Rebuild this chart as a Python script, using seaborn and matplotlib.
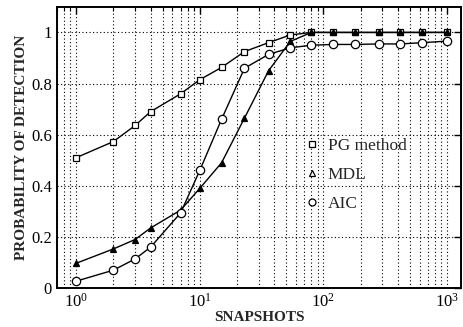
import numpy as np
import pandas as pd
import matplotlib
matplotlib.use("Agg")
import matplotlib.pyplot as plt
import seaborn as sns
from matplotlib.lines import Line2D
from matplotlib.ticker import LogLocator, FixedLocator

# values
snapshots = [1, 2, 3, 4, 7, 10, 15, 23, 36, 54, 80, 120, 180, 280, 420, 630, 1000]
pg_method = [0.51, 0.573, 0.636, 0.69, 0.76, 0.815, 0.863, 0.925, 0.96, 0.99,
             1.0, 1.0, 1.0, 1.0, 1.0, 1.0, 1.0]
mdl = [0.097, 0.153, 0.19, 0.235, 0.305, 0.39, 0.49, 0.665, 0.85, 0.965,
       1.0, 1.0, 1.0, 1.0, 1.0, 1.0, 1.0]
aic = [0.027, 0.07, 0.114, 0.16, 0.294, 0.46, 0.66, 0.86, 0.914, 0.94,
       0.95, 0.953, 0.953, 0.955, 0.955, 0.96, 0.966]
y_ticks = [0, 0.2, 0.4, 0.6, 0.8, 1]
y_ticklabels = ["0", "0.2", "0.4", "0.6", "0.8", "1"]

df = pd.DataFrame({"snapshots": snapshots, "PG method": pg_method,
                   "MDL": mdl, "AIC": aic})

sns.set_style("white")
plt.rcParams['font.family'] = ['Liberation Serif', 'DejaVu Serif']
plt.rcParams['mathtext.fontset'] = 'stix'

fig = plt.figure(figsize=(4.63, 3.27), dpi=100)
ax = fig.add_axes([0.123, 0.119, 0.873, 0.860])

# one style per series
styles = {
    "PG method": dict(marker="s", markersize=4.5, markerfacecolor="white"),
    "MDL": dict(marker="^", markersize=5, markerfacecolor="black"),
    "AIC": dict(marker="o", markersize=6, markerfacecolor="white"),
}
for name, st in styles.items():
    sns.lineplot(data=df, x="snapshots", y=name, ax=ax, color="black",
                 linewidth=1.0, markeredgecolor="black", markeredgewidth=0.9,
                 **st)

ax.set_xscale("log")
ax.set_xlim(0.7, 1300)
ax.set_ylim(0, 1.1)
ax.yaxis.set_major_locator(FixedLocator(y_ticks))
ax.set_yticklabels(y_ticklabels)
ax.xaxis.set_major_locator(LogLocator(base=10, numticks=10))
ax.xaxis.set_minor_locator(LogLocator(base=10, subs=np.arange(2, 10), numticks=20))

dots = (0, (1, 2.2))
ax.grid(True, which="major", axis="both", linestyle=dots, color="black", linewidth=0.8)
ax.grid(True, which="minor", axis="x", linestyle=dots, color="black", linewidth=0.8)

ax.tick_params(axis="both", which="both", direction="in", top=True, right=True,
               labelsize=12, colors="black")
ax.tick_params(axis="both", which="major", length=5, width=1)
ax.tick_params(axis="x", which="minor", length=3, width=0.8)
for s in ax.spines.values():
    s.set_linewidth(1.4)
    s.set_color("black")

ax.set_xlabel("SNAPSHOTS", fontsize=11, fontweight="bold", labelpad=0)
ax.set_ylabel("PROBABILITY OF DETECTION", fontsize=11, fontweight="bold", labelpad=2)

handles = [
    Line2D([], [], linestyle="none", marker="s", markersize=5, markerfacecolor="white",
           markeredgecolor="black", markeredgewidth=0.9),
    Line2D([], [], linestyle="none", marker="^", markersize=5, markerfacecolor="white",
           markeredgecolor="black", markeredgewidth=0.9),
    Line2D([], [], linestyle="none", marker="o", markersize=5, markerfacecolor="white",
           markeredgecolor="black", markeredgewidth=0.9),
]
ax.legend(handles, ["PG method", "MDL", "AIC"], loc="upper left",
          bbox_to_anchor=(0.575, 0.59), frameon=False, fontsize=12.5,
          handlelength=0.8, handletextpad=0.5, labelspacing=0.75)

fig.savefig("out.png", dpi=100)
